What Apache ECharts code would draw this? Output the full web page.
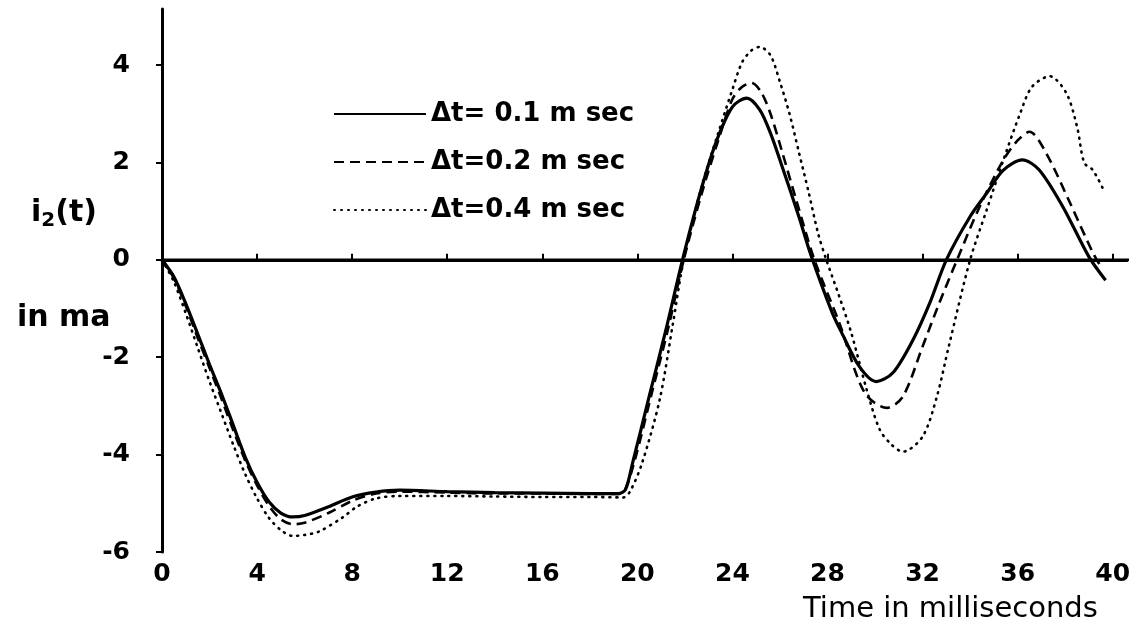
<!DOCTYPE html>
<html>
<head>
<meta charset="utf-8">
<script src="https://cdn.jsdelivr.net/npm/echarts@6/dist/echarts.min.js"></script>
<style>html,body{margin:0;padding:0;background:#fff}#c{width:1145px;height:636px}</style>
</head>
<body>
<div id="c"></div>
<script>
// ---- data ----
const seriesNames = ["\u0394t= 0.1 m sec", "\u0394t=0.2 m sec", "\u0394t=0.4 m sec"];

const t1 = [0, 0.5, 1, 1.5, 2, 2.5, 3, 3.5, 4, 4.5, 5, 5.5, 6, 7, 8, 9, 10, 12, 14, 16, 18, 19.2, 19.5, 19.8, 20.5, 21.2, 21.9, 22.6, 23.3, 24.0, 24.6, 25.15, 25.6, 26.1, 26.8, 27.3, 28.2, 28.6, 29.35, 30.05, 30.75, 31.6, 32.3, 33.0, 34.0, 34.7, 35.4, 36.2, 36.9, 37.9, 39.0, 39.7];
const v1 = [0, -0.35, -0.9, -1.52, -2.15, -2.75, -3.4, -4.05, -4.57, -4.97, -5.2, -5.28, -5.25, -5.07, -4.87, -4.77, -4.73, -4.76, -4.78, -4.79, -4.8, -4.8, -4.72, -4.17, -2.8, -1.44, 0, 1.3, 2.4, 3.14, 3.32, 3.08, 2.6, 1.9, 0.88, 0.1, -1.09, -1.5, -2.2, -2.5, -2.32, -1.64, -0.89, 0, 0.89, 1.37, 1.84, 2.05, 1.85, 1.09, 0.06, -0.42];

const t2 = [0, 0.5, 1, 1.5, 2, 2.5, 3, 3.5, 4, 4.5, 5, 5.5, 6, 7, 8, 9, 10, 12, 14, 16, 18, 19.2, 19.5, 19.9, 20.6, 21.3, 21.95, 22.7, 23.4, 24.0, 24.4, 24.8, 25.2, 25.6, 26.1, 26.7, 27.45, 28.5, 29.56, 30.5, 31.17, 32.0, 32.7, 33.45, 34.4, 35.4, 36.0, 36.5, 37.2, 38.2, 39.15, 39.5];
const v2 = [0, -0.38, -0.95, -1.6, -2.22, -2.85, -3.5, -4.12, -4.63, -5.05, -5.33, -5.43, -5.4, -5.2, -4.95, -4.8, -4.76, -4.78, -4.8, -4.8, -4.81, -4.81, -4.7, -4.1, -2.75, -1.4, 0, 1.35, 2.45, 3.3, 3.55, 3.63, 3.45, 3.0, 2.2, 1.2, 0, -1.3, -2.73, -3.04, -2.81, -1.78, -0.89, 0, 1.09, 2.05, 2.45, 2.63, 2.19, 1.17, 0.16, -0.14];

const t3 = [0, 0.5, 1, 1.5, 2, 2.5, 3, 3.5, 4, 4.5, 5, 5.5, 6, 6.6, 7.6, 8.2, 9, 10, 12, 14, 16, 18, 19.4, 19.7, 20.2, 20.94, 21.5, 21.95, 22.7, 23.4, 24.0, 24.4, 24.8, 25.15, 25.6, 26.0, 26.4, 26.8, 27.2, 27.6, 27.95, 28.5, 29.0, 29.65, 30.2, 30.7, 31.17, 32.0, 32.6, 33.1, 34.0, 34.7, 35.4, 36.1, 36.6, 37.35, 38.05, 38.5, 38.8, 39.15, 39.57];
const v3 = [0, -0.45, -1.1, -1.8, -2.5, -3.15, -3.8, -4.4, -4.9, -5.3, -5.55, -5.67, -5.65, -5.58, -5.29, -5.07, -4.9, -4.85, -4.85, -4.86, -4.87, -4.87, -4.88, -4.75, -4.17, -2.87, -1.3, 0, 1.5, 2.6, 3.5, 4.05, 4.3, 4.37, 4.2, 3.65, 3.0, 2.2, 1.4, 0.55, 0, -0.76, -1.5, -2.67, -3.49, -3.8, -3.94, -3.63, -2.81, -1.78, 0, 1.03, 2.05, 3.0, 3.55, 3.77, 3.42, 2.73, 1.99, 1.85, 1.48];

const xTicks = [0, 4, 8, 12, 16, 20, 24, 28, 32, 36, 40];
const yTicks = [-6, -4, -2, 0, 2, 4];
const zeroLineX = [0, 41.0];

const pairs = (xs, ys) => xs.map((x, i) => [x, ys[i]]);
const FONT = "DejaVu Sans";

const chart = echarts.init(document.getElementById('c'), null, {renderer: 'canvas'});
chart.setOption({
  backgroundColor: '#fff',
  animation: false,
  grid: {left: 162, right: 18, top: 9, bottom: 84, containLabel: false},
  title: [
    {text: 'Time in milliseconds', left: 798, top: 590, textStyle: {fontFamily: FONT, fontSize: 29, fontWeight: 'normal', color: '#000'}},
    {text: 'i{s|2}(t)', left: 26, top: 190, textStyle: {fontFamily: FONT, fontSize: 30, fontWeight: 'bold', color: '#000',
      rich: {s: {fontFamily: FONT, fontSize: 20, fontWeight: 'bold', color: '#000', padding: [16, 0, 0, 0]}}}},
    {text: 'in ma', left: 12, top: 298, textStyle: {fontFamily: FONT, fontSize: 30, fontWeight: 'bold', color: '#000'}}
  ],
  legend: {
    data: seriesNames,
    orient: 'vertical', left: 333, top: 99, padding: 0,
    itemWidth: 92, itemHeight: 14, itemGap: 18,
    itemStyle: {color: 'rgba(0,0,0,0)', borderWidth: 0, opacity: 0},
    textStyle: {fontFamily: FONT, fontSize: 26, fontWeight: 'bold', color: '#000', lineHeight: 30},
    selectedMode: false
  },
  xAxis: {
    type: 'value', min: 0, max: 40.6,
    axisLine: {lineStyle: {color: '#000', width: 3}},
    axisTick: {show: true, customValues: xTicks, length: 6, inside: true, lineStyle: {color: '#000', width: 2}},
    axisLabel: {customValues: xTicks, margin: 10, fontFamily: FONT, fontSize: 25, fontWeight: 'bold', color: '#000'},
    splitLine: {show: false}
  },
  yAxis: {
    type: 'value', min: -6, max: 5.15,
    axisLine: {show: true, lineStyle: {color: '#000', width: 3}},
    axisTick: {show: true, customValues: yTicks, length: 6, lineStyle: {color: '#000', width: 2}},
    axisLabel: {customValues: yTicks, margin: 32, fontFamily: FONT, fontSize: 25, fontWeight: 'bold', color: '#000'},
    splitLine: {show: false}
  },
  series: [
    {name: 'zero', type: 'line', data: zeroLineX.map(x => [x, 0]), symbol: 'none', clip: false, silent: true,
     lineStyle: {color: '#000', width: 2.5}},
    {name: seriesNames[0], type: 'line', data: pairs(t1, v1), symbol: 'none', smooth: 0.3,
     lineStyle: {color: '#000', width: 3.2, type: 'solid'}, itemStyle: {color: '#000'}},
    {name: seriesNames[1], type: 'line', data: pairs(t2, v2), symbol: 'none', smooth: 0.3,
     lineStyle: {color: '#000', width: 2.6, type: [10, 6]}, itemStyle: {color: '#000'}},
    {name: seriesNames[2], type: 'line', data: pairs(t3, v3), symbol: 'none', smooth: 0.3,
     lineStyle: {color: '#000', width: 2.6, type: [1, 6], cap: 'round'}, itemStyle: {color: '#000'}}
  ]
});
</script>
</body>
</html>
